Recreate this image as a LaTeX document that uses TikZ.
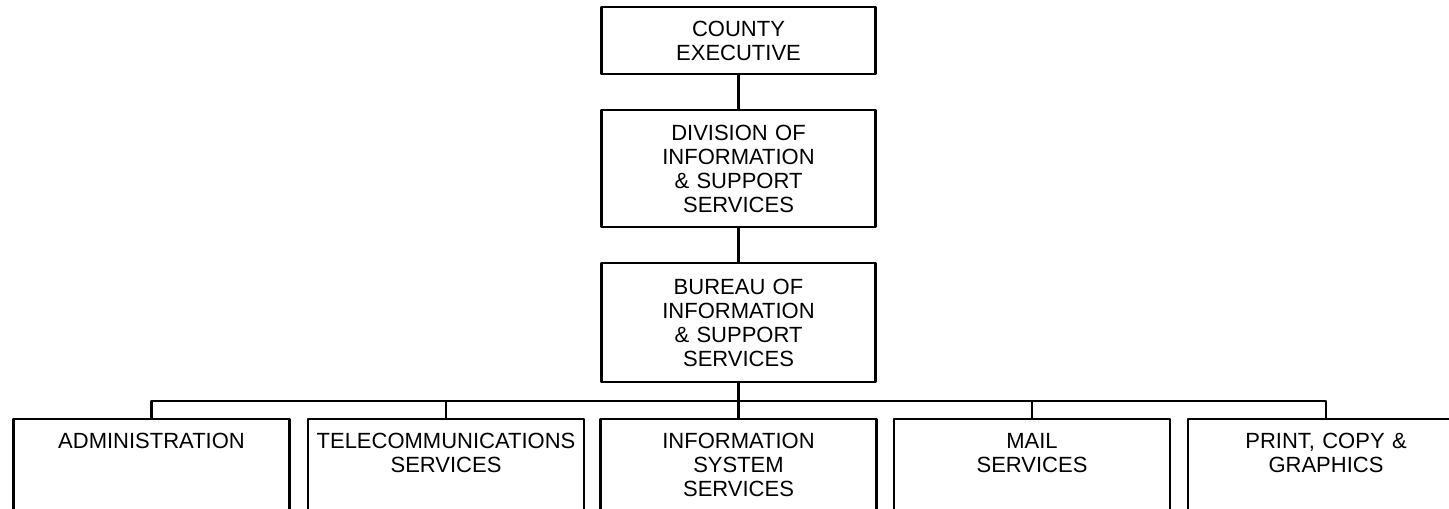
\documentclass[tikz,border=0pt]{standalone}
\usepackage{fontspec}
\setmainfont{Liberation Sans}
\usepackage{tikz}

\begin{document}
\begin{tikzpicture}[line cap=round,line join=round,x=0.5pt,y=-0.5pt,
                        line width=1.1pt,
                        every node/.style={font=\fontsize{11}{12}\selectfont},
                        unit/.style={draw,line width=1.1pt,align=center,text width=137pt,inner xsep=0pt},
                        section/.style={draw,line width=1.1pt,align=center,text width=138pt,inner xsep=0pt,
                                        inner ysep=7pt,anchor=north,text depth=80pt}]
                    \clip (0,0) rectangle (1449,508);
                    % upper chain
                    \node [unit,minimum height=33.5pt] (exec) at (738.5,40.5) {COUNTY\\EXECUTIVE};
                    \node [unit,minimum height=58.5pt] (div) at (738.5,168.5) {DIVISION OF\\INFORMATION\\\& SUPPORT\\SERVICES};
                    \node [unit,minimum height=59.5pt] (bur) at (738.5,322.5) {BUREAU OF\\INFORMATION\\\& SUPPORT\\SERVICES};
                    % sections
                    \node [section] (admin) at (151.5,418) {ADMINISTRATION};
                    \node [section] (tele) at (446,418) {TELECOMMUNICATIONS\\SERVICES};
                    \node [section] (info) at (738.5,418) {INFORMATION\\SYSTEM\\SERVICES};
                    \node [section] (mail) at (1032,418) {MAIL\\SERVICES};
                    \node [section] (print) at (1326,418) {PRINT, COPY \&\\GRAPHICS};
                    \coordinate (bus) at (0,401);
                    \draw (exec) -- (div);
                    \draw (div) -- (bur);
                    \draw (bur.south) -- (info.north);
                    \draw (admin.north) -- (admin.north |- bus) -- (print.north |- bus) -- (print.north);
                    \draw (tele.north) -- (tele.north |- bus);
                    \draw (mail.north) -- (mail.north |- bus);
                    \end{tikzpicture}
\end{document}
